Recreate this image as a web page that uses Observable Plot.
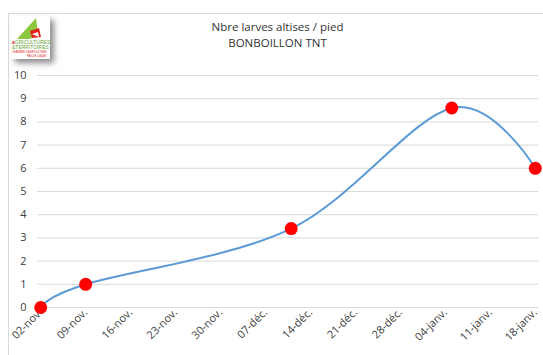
<!DOCTYPE html>
<html><head><meta charset="utf-8">
<script src="https://cdn.jsdelivr.net/npm/d3@7"></script>
<script src="https://cdn.jsdelivr.net/npm/@observablehq/plot@0.6"></script>
<style>
body{margin:0;background:#fff;font-family:"Open Sans",sans-serif;}
#wrap{position:relative;width:543px;height:355px;overflow:hidden;}
#frame{position:absolute;left:8px;top:13px;width:600px;height:400px;border-left:1px solid #d9d9d9;border-top:1px solid #d9d9d9;}
#title{position:absolute;left:0;width:555px;top:19px;text-align:center;font-size:11.5px;line-height:16px;color:#333;}
#logo{position:absolute;left:11px;top:16px;width:39px;height:43px;background:#fff;box-shadow:4px 4px 6px rgba(0,0,0,0.45);}
#plot{position:absolute;left:0;top:0;}
</style></head>
<body><div id="wrap"><div id="frame"></div><div id="plot"></div>
<div id="logo"><svg width="39" height="43" viewBox="0 0 39 43">
<path d="M6 23 L25 2 L27 17 L19 23 Z" fill="#8dc63f"/>
<path d="M19 15 L28 12 L30 21 L21 22 Z" fill="#e2231a"/>
<path d="M21 18 L27 16 L28 21 Z" fill="#ffffff"/>
<text x="1" y="28" font-size="5" font-family="Liberation Sans" fill="#6aa336"><tspan fill="#e2231a" font-weight="bold">a</tspan>GRICULTURES</text>
<text x="1" y="33" font-size="5" font-family="Liberation Sans" fill="#6aa336">&amp;TERRITOIRES</text>
<text x="1" y="37" font-size="2.6" font-family="Liberation Sans" fill="#e2231a">CHAMBRE D'AGRICULTURE</text>
<text x="16" y="41" font-size="2.6" font-family="Liberation Sans" fill="#e2231a">PAS-DE-CALAIS</text>
</svg></div>
<div id="title">Nbre larves altises / pied<br>BONBOILLON TNT</div>
</div>
<script>
const obsDates = ["2020-11-02","2020-11-09","2020-12-11","2021-01-05","2021-01-18"];
const obsValues = [0, 1, 3.4, 8.6, 6];
const tickDates = ["2020-11-02","2020-11-09","2020-11-16","2020-11-23","2020-11-30","2020-12-07","2020-12-14","2020-12-21","2020-12-28","2021-01-04","2021-01-11","2021-01-18"];
const tickLabels = ["02-nov.","09-nov.","16-nov.","23-nov.","30-nov.","07-déc.","14-déc.","21-déc.","28-déc.","04-janv.","11-janv.","18-janv."];
const yTicks = [0,1,2,3,4,5,6,7,8,9,10];

const parse = d3.utcParse("%Y-%m-%d");
const data = obsDates.map((d,i)=>({date: parse(d), value: obsValues[i]}));
const ticks = tickDates.map(parse);
const labelOf = new Map(ticks.map((t,i)=>[+t, tickLabels[i]]));
const half = 12*3600*1000;

const chart = Plot.plot({
  width: 543, height: 355,
  marginLeft: 37, marginRight: 5, marginTop: 75, marginBottom: 48,
  style: {fontFamily: "Open Sans, sans-serif", fontSize: "11px", color: "#404040", background: "transparent"},
  x: {type: "utc", domain: [new Date(+ticks[0]-half), new Date(+ticks[ticks.length-1]+half)]},
  y: {domain: [0, 10]},
  marks: [
    Plot.gridY(yTicks, {stroke: "#d9d9d9", strokeOpacity: 1, strokeWidth: 1}),
    Plot.axisY(yTicks, {tickSize: 0, tickPadding: 11, label: null, fill: "#404040"}),
    Plot.axisX(ticks, {tickSize: 0, tickPadding: 3, tickRotate: -45, label: null, fill: "#404040",
      tickFormat: d => labelOf.get(+d)}),
    Plot.line(data, {x: "date", y: "value", curve: "cardinal", stroke: "#5b9bd5", strokeWidth: 2}),
    Plot.dot(data, {x: "date", y: "value", r: 6.5, fill: "#ff0000", stroke: "none"})
  ]
});
document.getElementById("plot").appendChild(chart);
</script>
</body></html>
